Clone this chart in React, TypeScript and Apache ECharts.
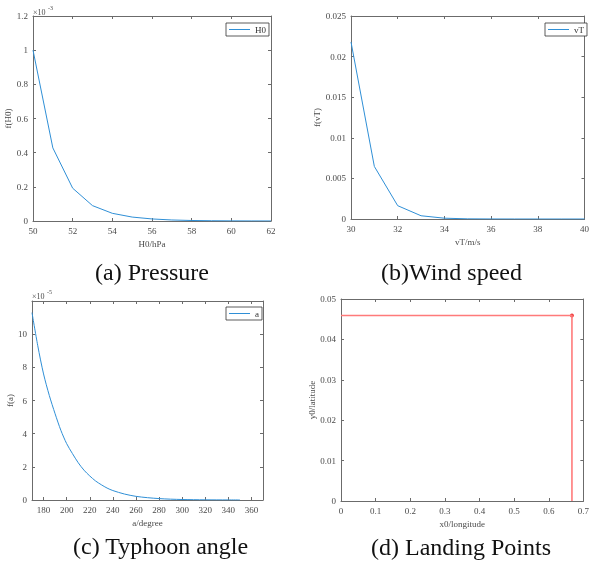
import React, { useEffect, useRef } from 'react';
import * as echarts from 'echarts';

// (a) Pressure: f(H0) in units of 1e-3
const pressureX = [50, 51, 52, 53, 54, 55, 56, 57, 58, 59, 60, 61, 62];
const pressureF = [1.0, 0.428, 0.192, 0.09, 0.045, 0.023, 0.012, 0.006, 0.003, 0.0015, 0.0008, 0.0004, 0.0002];

// (b) Wind speed: f(vT)
const windX = [30, 31, 32, 33, 34, 35, 36, 37, 38, 39, 40];
const windF = [0.0218, 0.00647, 0.00164, 0.0004, 0.0001, 0.00002, 0.000005, 0.000001, 0, 0, 0];

// (c) Typhoon angle: f(a) in units of 1e-5
const angleX = [170, 175, 180, 185, 190, 195, 200, 205, 210, 215, 220, 225, 230, 235, 240, 250, 260, 270, 280, 290, 300, 310, 320, 330, 340, 350];
const angleF = [11.3, 9.3, 7.6, 6.3, 5.2, 4.2, 3.4, 2.8, 2.25, 1.8, 1.45, 1.15, 0.92, 0.72, 0.57, 0.36, 0.22, 0.14, 0.085, 0.05, 0.03, 0.018, 0.011, 0.007, 0.004, 0.002];

// (d) Landing points
const landingX = [0, 0.667, 0.667];
const landingY = [0.0459, 0.0459, 0];
const landingPointX = [0.667];
const landingPointY = [0.0459];

// captions
const captions = ['(a) Pressure', '(b)Wind speed', '(c) Typhoon angle', '(d) Landing Points'];

const FONT = 'serif';
const AXIS_COLOR = '#6b6b6b';
const LABEL_COLOR = '#4a4a4a';
const BLUE = '#2f8fd6';

const grids = [
  { left: 33, top: 16, width: 238, height: 205 },
  { left: 351, top: 16, width: 238, height: 203 },
  { left: 32, top: 301, width: 231, height: 199 },
  { left: 341, top: 299, width: 246, height: 202 },
];

function xAxes(g: number, min: number, max: number, interval: number | undefined, name: string, extra: any = {}) {
  const common: any = {
    type: 'value',
    gridIndex: g,
    min,
    max,
    splitLine: { show: false },
    axisLine: { show: true, onZero: false, lineStyle: { color: AXIS_COLOR, width: 1 } },
    axisTick: { show: true, inside: true, length: 3, lineStyle: { color: AXIS_COLOR } },
  };
  if (interval !== undefined) common.interval = interval;
  else common.splitNumber = 10;
  return [
    {
      ...common,
      position: 'bottom',
      name,
      nameLocation: 'middle',
      nameGap: 18,
      nameTextStyle: { fontFamily: FONT, fontSize: 9, color: LABEL_COLOR },
      axisLabel: { fontFamily: FONT, fontSize: 9, color: LABEL_COLOR, margin: 5, ...extra },
    },
    { ...common, position: 'top', axisLabel: { show: false } },
  ];
}

function yAxes(g: number, min: number, max: number, interval: number, name: string, extra: any = {}) {
  const common = {
    type: 'value',
    gridIndex: g,
    min,
    max,
    interval,
    splitLine: { show: false },
    axisLine: { show: true, onZero: false, lineStyle: { color: AXIS_COLOR, width: 1 } },
    axisTick: { show: true, inside: true, length: 3, lineStyle: { color: AXIS_COLOR } },
  };
  return [
    {
      ...common,
      position: 'left',
      name,
      nameLocation: 'middle',
      nameGap: 15,
      nameTextStyle: { fontFamily: FONT, fontSize: 9, color: LABEL_COLOR },
      axisLabel: { fontFamily: FONT, fontSize: 9, color: LABEL_COLOR, margin: 5, ...extra },
    },
    { ...common, position: 'right', axisLabel: { show: false } },
  ];
}

function legendFor(name: string, left: number, top: number) {
  return {
    data: [name],
    left,
    top,
    orient: 'horizontal',
    selectedMode: false,
    icon: 'rect',
    itemWidth: 21,
    itemHeight: 1,
    itemGap: 0,
    padding: [2, 3, 2, 3],
    borderColor: '#333',
    borderWidth: 0.8,
    backgroundColor: '#fff',
    textStyle: { fontFamily: FONT, fontSize: 9, color: '#333' },
  };
}

function titleText(text: string, left: number, top: number, size: number, color: string) {
  return {
    text,
    left,
    top,
    textStyle: { fontFamily: FONT, fontSize: size, fontWeight: 'normal', color },
  };
}

export default function App() {
  const ref = useRef<HTMLDivElement>(null);

  useEffect(() => {
    if (!ref.current) return;
    const chart = echarts.init(ref.current, undefined, { renderer: 'svg' });

    const option: any = {
      animation: false,
      grid: grids.map((g) => ({ ...g, containLabel: false })),
      xAxis: [
        ...xAxes(0, 50, 62, 2, 'H0/hPa'),
        ...xAxes(1, 30, 40, 2, 'vT/m/s'),
        ...xAxes(2, 170, 370, undefined, 'a/degree', { showMinLabel: false, showMaxLabel: false }),
        ...xAxes(3, 0, 0.7, 0.1, 'x0/longitude'),
      ],
      yAxis: [
        ...yAxes(0, 0, 1.2, 0.2, 'f(H0)'),
        ...yAxes(1, 0, 0.025, 0.005, 'f(vT)'),
        ...yAxes(2, 0, 12, 2, 'f(a)', { showMaxLabel: false }),
        ...yAxes(3, 0, 0.05, 0.01, 'y0/latitude'),
      ],
      legend: [
        legendFor('H0', 226, 23),
        legendFor('vT', 545, 23),
        legendFor('a', 226, 307),
      ],
      title: [
        titleText(captions[0], 90, 255, 24, '#111'),
        titleText(captions[1], 376, 255, 24, '#111'),
        titleText(captions[2], 68, 529, 24, '#111'),
        titleText(captions[3], 366, 530, 24, '#111'),
        titleText('×10', 28, 3, 8, LABEL_COLOR),
        titleText('-3', 43, 0, 6, LABEL_COLOR),
        titleText('×10', 27, 287, 8, LABEL_COLOR),
        titleText('-5', 42, 284, 6, LABEL_COLOR),
      ],
      series: [
        {
          name: 'H0',
          type: 'line',
          xAxisIndex: 0,
          yAxisIndex: 0,
          data: pressureX.map((x, i) => [x, pressureF[i]]),
          showSymbol: false,
          lineStyle: { color: BLUE, width: 1 },
          itemStyle: { color: BLUE },
        },
        {
          name: 'vT',
          type: 'line',
          xAxisIndex: 2,
          yAxisIndex: 2,
          data: windX.map((x, i) => [x, windF[i]]),
          showSymbol: false,
          lineStyle: { color: BLUE, width: 1 },
          itemStyle: { color: BLUE },
        },
        {
          name: 'a',
          type: 'line',
          xAxisIndex: 4,
          yAxisIndex: 4,
          smooth: 0.3,
          data: angleX.map((x, i) => [x, angleF[i]]),
          showSymbol: false,
          lineStyle: { color: BLUE, width: 1 },
          itemStyle: { color: BLUE },
        },
        {
          name: 'landing',
          type: 'line',
          xAxisIndex: 6,
          yAxisIndex: 6,
          data: landingX.map((x, i) => [x, landingY[i]]),
          showSymbol: false,
          lineStyle: { color: '#ff7a7a', width: 1.6 },
          itemStyle: { color: '#ff7a7a' },
        },
        {
          name: 'landingPoint',
          type: 'scatter',
          xAxisIndex: 6,
          yAxisIndex: 6,
          data: landingPointX.map((x, i) => [x, landingPointY[i]]),
          symbol: 'circle',
          symbolSize: 4,
          itemStyle: { color: '#ee1111' },
        },
      ],
    };

    chart.setOption(option);
    return () => chart.dispose();
  }, []);

  return (
    <div
      ref={ref}
      style={{ position: 'fixed', left: 0, top: 0, width: 592, height: 562 }}
    />
  );
}
